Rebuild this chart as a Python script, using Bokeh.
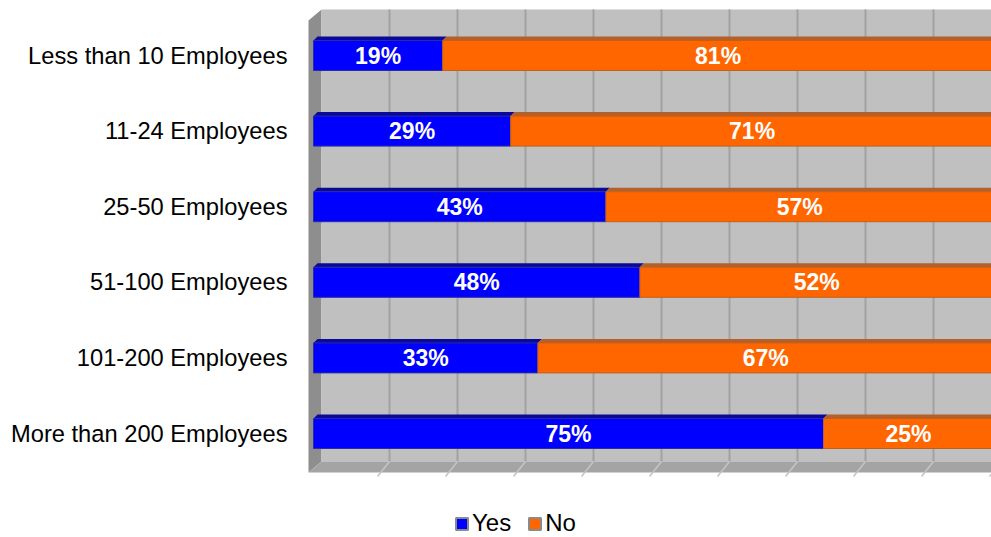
from bokeh.plotting import figure
from bokeh.models import Range1d, FixedTicker, Legend, LegendItem, ColumnDataSource
from bokeh.core.properties import value
from bokeh.embed import file_html
from bokeh.resources import INLINE

# ---- data ----
categories = ["Less than 10 Employees", "11-24 Employees", "25-50 Employees",
              "51-100 Employees", "101-200 Employees", "More than 200 Employees"]
yes = [19, 29, 43, 48, 33, 75]
no = [81, 71, 57, 52, 67, 25]
series_names = ["Yes", "No"]
grid_ticks = [10, 20, 30, 40, 50, 60, 70, 80, 90, 100]

# ---- styling constants (pixel -> data unit factors) ----
PX = 1 / 6.8     # x data units per pixel
PY = 1 / 75.6    # y data units per pixel (one row per 75.6 px)
FONT = "Liberation Sans"
YES_C, YES_TOP, YES_EDGE = "#0000ff", "#0a0a96", "#2a2aa8"
NO_C, NO_TOP, NO_EDGE = "#ff6600", "#b4602a", "#c0601c"

n = len(categories)
rows = list(range(n))

p = figure(width=991, height=537, output_backend="svg", toolbar_location=None,
           x_range=Range1d(-13 * PX, 678 * PX),
           y_range=Range1d(482 * PY, -55 * PY),
           x_axis_location=None,
           min_border_left=300, min_border_right=0,
           min_border_top=0, min_border_bottom=0)
p.outline_line_color = None
p.grid.visible = False
p.background_fill_color = "white"
p.border_fill_color = "white"

yes_left = [0] * n
yes_right = yes
no_left = yes
no_right = [a + b for a, b in zip(yes, no)]
half = 15 * PY
top = [i - half for i in rows]
bot = [i + half for i in rows]

# legend swatch renderers (drawn first, hidden beneath the walls and bars)
ly = p.quad(left=yes_left, right=yes_right, top=top, bottom=bot,
            fill_color=YES_C, line_color="#8a8a8a", line_width=2)
ln = p.quad(left=no_left, right=no_right, top=top, bottom=bot,
            fill_color=NO_C, line_color="#8a8a8a", line_width=2)

# ---- 3D walls ----
last = rows[-1]
wall_top = -46 * PY
floor_back = last + 28 * PY
floor_front = last + 39 * PY
side_left = -5 * PX
wall_left = 8 * PX
side_top_left = -35 * PY
far = 110

p.patch([side_left, wall_left, wall_left, side_left],
        [side_top_left, wall_top, floor_back, floor_front],
        fill_color="#8e8e8e", line_color=None)
p.quad(left=[wall_left], right=[far], top=[wall_top], bottom=[floor_back],
       fill_color="#c0c0c0", line_color=None)
p.patch([side_left, wall_left, far, far],
        [floor_front, floor_back, floor_back, floor_front],
        fill_color="#a4a4a4", line_color=None)

gx = [t + 8 * PX for t in grid_ticks]
p.segment(x0=gx, y0=[floor_back] * len(gx), x1=gx, y1=[wall_top] * len(gx),
          line_color="#a2a2a2", line_width=2)
p.segment(x0=gx, y0=[floor_back] * len(gx),
          x1=[t - 4 * PX for t in grid_ticks], y1=[floor_front + 4 * PY] * len(gx),
          line_color="#c4c4c4", line_width=1.5)

# ---- bars ----
dxb, dyb = 4 * PX, 4 * PY

def top_faces(lefts, rights):
    xs, ys = [], []
    for i, l, r in zip(rows, lefts, rights):
        xs.append([l, l + dxb, r + dxb, r])
        ys.append([i - half, i - half - dyb, i - half - dyb, i - half])
    return xs, ys

xs, ys = top_faces(yes_left, yes_right)
p.patches(xs, ys, fill_color=YES_TOP, line_color=None)
xs, ys = top_faces(no_left, no_right)
p.patches(xs, ys, fill_color=NO_TOP, line_color=None)

p.quad(left=yes_left, right=yes_right, top=top, bottom=bot,
       fill_color=YES_C, line_color=YES_EDGE, line_width=1)
p.quad(left=no_left, right=no_right, top=top, bottom=bot,
       fill_color=NO_C, line_color=NO_EDGE, line_width=1)

lab = ColumnDataSource(dict(
    x=[(l + r) / 2 for l, r in zip(yes_left, yes_right)] + [(l + r) / 2 for l, r in zip(no_left, no_right)],
    y=rows + rows,
    t=[f"{v}%" for v in yes] + [f"{v}%" for v in no]))
p.text(x="x", y="y", text="t", source=lab, text_color="white",
       text_font=value(FONT), text_font_style="bold", text_font_size="23px",
       text_align="center", text_baseline="middle")

# ---- y axis (category labels) ----
ax = p.yaxis[0]
ax.ticker = FixedTicker(ticks=rows)
ax.major_label_overrides = {i: c for i, c in zip(rows, categories)}
ax.axis_line_color = None
ax.major_tick_line_color = None
ax.minor_tick_line_color = None
ax.major_tick_out = 0
ax.major_tick_in = 0
ax.major_label_standoff = 13
ax.major_label_text_font = FONT
ax.major_label_text_font_size = "23.7px"
ax.major_label_text_color = "black"

# ---- legend ----
legend = Legend(items=[LegendItem(label=series_names[0], renderers=[ly]),
                       LegendItem(label=series_names[1], renderers=[ln])],
                orientation="horizontal", location=(154, 0),
                glyph_width=15, glyph_height=15, label_standoff=3, spacing=16,
                padding=0, margin=0, border_line_color=None,
                background_fill_alpha=0,
                label_text_font=FONT, label_text_font_size="24px",
                label_text_color="black")
p.add_layout(legend)

open("out.html", "w").write(file_html(p, INLINE))
